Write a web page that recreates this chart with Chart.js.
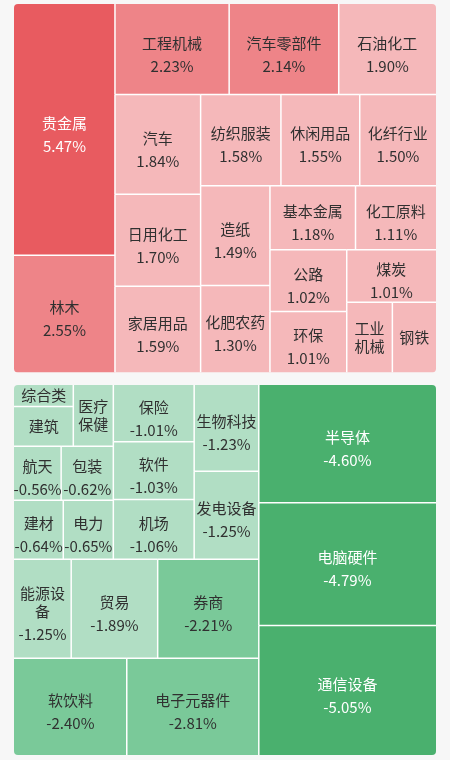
<!DOCTYPE html>
<html>
<head>
<meta charset="utf-8">
<script src="https://cdn.jsdelivr.net/npm/chart.js@4.4.1/dist/chart.umd.min.js"></script>
<style>
  html, body { margin: 0; padding: 0; background: #f7f7f7; }
  #wrap { width: 450px; height: 760px; }
</style>
</head>
<body>
<div id="wrap"><canvas id="heatChart" width="450" height="760"></canvas></div>
<script>
// 行业涨跌幅 (%)，按幅度从大到小
const upNames = ['贵金属', '林木', '工程机械', '汽车零部件', '石油化工', '汽车', '日用化工', '家居用品',
  '纺织服装', '休闲用品', '化纤行业', '造纸', '化肥农药', '基本金属', '化工原料', '公路', '环保', '煤炭',
  '工业机械', '钢铁'];
const upValues = [5.47, 2.55, 2.23, 2.14, 1.90, 1.84, 1.70, 1.59, 1.58, 1.55, 1.50, 1.49, 1.30, 1.18,
  1.11, 1.02, 1.01, 1.01, 0.69, 0.66];

const downNames = ['通信设备', '电脑硬件', '半导体', '电子元器件', '软饮料', '券商', '贸易', '能源设备',
  '发电设备', '生物科技', '机场', '软件', '保险', '电力', '建材', '包装', '航天', '医疗保健', '建筑', '综合类'];
const downValues = [-5.05, -4.79, -4.60, -2.81, -2.40, -2.21, -1.89, -1.25, -1.25, -1.23, -1.06, -1.03,
  -1.01, -0.65, -0.64, -0.62, -0.56, -0.54, -0.52, -0.28];

// 两块区域（坐标轴单位），squareRatio 控制行/列的切分
const panels = [
  { x: 14, y: 4, w: 422, h: 368.5, ratio: 0.796, flip: false },
  { x: 14, y: 385, w: 422, h: 370, ratio: 1.07, flip: true }
];

const upColors = ['#e85b60', '#ee8488', '#f5b8ba'];
const downColors = ['#4ab06e', '#7ac999', '#b1dec4'];
const FONT = '15px "Noto Sans CJK SC", "Noto Sans", sans-serif';

function colorFor(v) {
  const a = Math.abs(v);
  const set = v >= 0 ? upColors : downColors;
  if (a >= 3) return set[0];
  if (a >= 2) return set[1];
  return set[2];
}

function worstOf(row, sum, L, scale, ratio) {
  const t = sum * scale / L;
  let w = 0;
  row.forEach(d => {
    const len = d.size * scale / t;
    w = Math.max(w, ratio * len / t, t / (len * ratio));
  });
  return w;
}

// squarified treemap
function squarify(items, rect, ratio) {
  const out = [];
  const r = { x: rect.x, y: rect.y, w: rect.w, h: rect.h };
  let remaining = items.reduce((s, d) => s + d.size, 0);
  let i = 0;
  while (i < items.length) {
    const column = r.h < r.w;
    const L = column ? r.h : r.w;
    const scale = (r.w * r.h) / remaining;
    const row = [items[i]];
    let sum = items[i].size;
    let best = worstOf(row, sum, L, scale, ratio);
    let j = i + 1;
    while (j < items.length) {
      const s2 = sum + items[j].size;
      const w2 = worstOf(row.concat([items[j]]), s2, L, scale, ratio);
      if (w2 > best) break;
      row.push(items[j]);
      sum = s2;
      best = w2;
      j++;
    }
    const t = j >= items.length ? (column ? r.w : r.h) : sum * scale / L;
    let pos = column ? r.y : r.x;
    row.forEach(d => {
      const len = d.size * scale / t;
      if (column) out.push(Object.assign({ x: r.x, y: pos, w: t, h: len }, d));
      else out.push(Object.assign({ x: pos, y: r.y, w: len, h: t }, d));
      pos += len;
    });
    if (column) { r.x += t; r.w -= t; } else { r.y += t; r.h -= t; }
    remaining -= sum;
    i = j;
  }
  return out;
}

function drawLabel(ctx, cell, l, t, w, h) {
  ctx.font = FONT;
  const maxW = w - 2;
  const lines = [];
  let cur = '';
  for (const ch of cell.name) {
    if (cur && ctx.measureText(cur + ch).width > maxW) { lines.push(cur); cur = ch; } else cur += ch;
  }
  lines.push(cur);
  const lh = 18;
  const showValue = w >= 46 && h >= lines.length * lh + 30;
  const blockH = lines.length * lh + (showValue ? 5 + lh : 0);
  let y = t + h / 2 - blockH / 2 + (showValue ? 5 : 0) + lh / 2;
  const cx = l + w / 2;
  ctx.fillStyle = Math.abs(cell.value) >= 3 ? '#ffffff' : '#303030';
  ctx.textAlign = 'center';
  ctx.textBaseline = 'middle';
  lines.forEach(s => { ctx.fillText(s, cx, y); y += lh; });
  if (showValue) ctx.fillText(cell.value.toFixed(2) + '%', cx, y + 5);
}

const treemapPlugin = {
  id: 'treemapLite',
  afterDatasetsDraw(chart) {
    const ctx = chart.ctx;
    const xs = chart.scales.x, ys = chart.scales.y;
    chart.data.datasets.forEach((ds, k) => {
      const p = panels[k];
      const items = ds.values.map((v, i) => ({ name: ds.names[i], value: v, size: Math.abs(v) }))
        .sort((a, b) => b.size - a.size);
      const cells = squarify(items, p, p.ratio);
      const px0 = xs.getPixelForValue(p.x), px1 = xs.getPixelForValue(p.x + p.w);
      const py0 = ys.getPixelForValue(p.y), py1 = ys.getPixelForValue(p.y + p.h);

      ctx.save();
      ctx.beginPath();
      ctx.roundRect(px0, py0, px1 - px0, py1 - py0, 4);
      ctx.clip();
      const boxes = cells.map(c => {
        let x = c.x, y = c.y;
        if (p.flip) { x = 2 * p.x + p.w - c.x - c.w; y = 2 * p.y + p.h - c.y - c.h; }
        const l = xs.getPixelForValue(x), r = xs.getPixelForValue(x + c.w);
        const t = ys.getPixelForValue(y), b = ys.getPixelForValue(y + c.h);
        return { c, l, t, w: r - l, h: b - t };
      });
      boxes.forEach(bx => {
        ctx.fillStyle = colorFor(bx.c.value);
        ctx.fillRect(bx.l, bx.t, bx.w, bx.h);
      });
      ctx.strokeStyle = '#ffffff';
      ctx.lineWidth = 1.5;
      boxes.forEach(bx => {
        ctx.beginPath();
        if (bx.l > px0 + 0.5) { ctx.moveTo(bx.l, bx.t); ctx.lineTo(bx.l, bx.t + bx.h); }
        if (bx.t > py0 + 0.5) { ctx.moveTo(bx.l, bx.t); ctx.lineTo(bx.l + bx.w, bx.t); }
        ctx.stroke();
      });
      boxes.forEach(bx => {
        ctx.save();
        ctx.beginPath();
        ctx.rect(bx.l, bx.t, bx.w, bx.h);
        ctx.clip();
        drawLabel(ctx, bx.c, bx.l, bx.t, bx.w, bx.h);
        ctx.restore();
      });
      ctx.restore();
    });
  }
};

new Chart(document.getElementById('heatChart'), {
  type: 'scatter',
  data: {
    datasets: [
      { label: '上涨', data: [], names: upNames, values: upValues },
      { label: '下跌', data: [], names: downNames, values: downValues }
    ]
  },
  options: {
    responsive: false,
    animation: false,
    devicePixelRatio: 1,
    layout: { padding: 0 },
    plugins: { legend: { display: false }, tooltip: { enabled: false } },
    scales: {
      x: { type: 'linear', min: 0, max: 450, display: false },
      y: { type: 'linear', min: 0, max: 760, reverse: true, display: false }
    }
  },
  plugins: [treemapPlugin]
});
</script>
</body>
</html>
